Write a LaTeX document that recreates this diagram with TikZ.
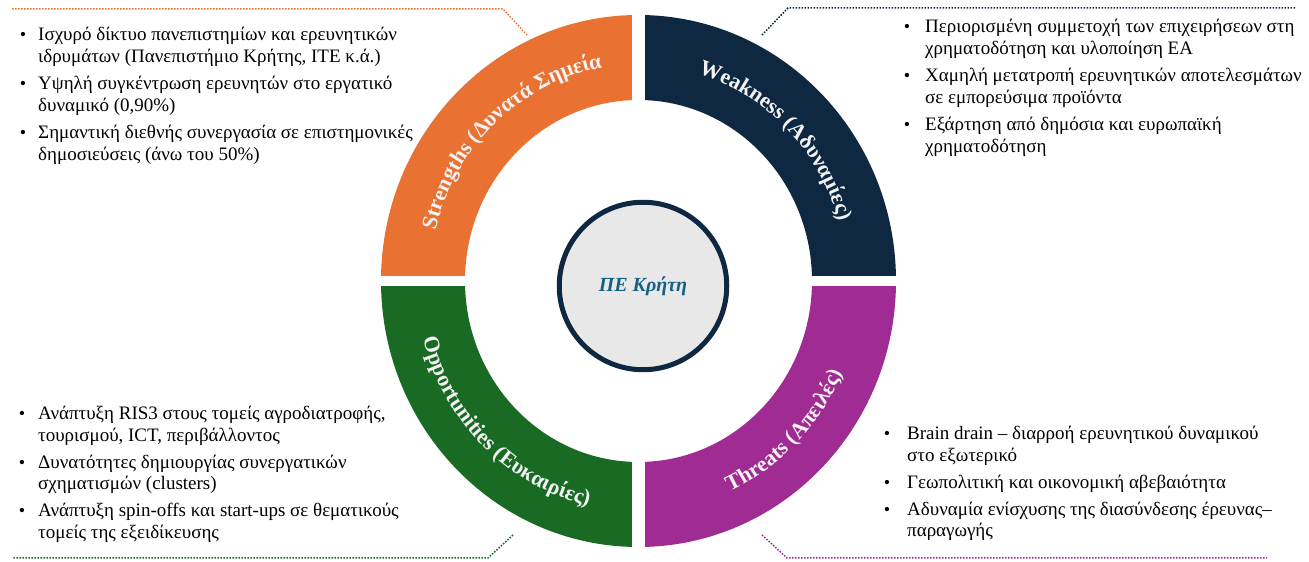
\documentclass[tikz,border=0pt]{standalone}
\usepackage{fontspec}
\setmainfont{Liberation Serif}
\usetikzlibrary{decorations.text,calc}
\definecolor{sorange}{HTML}{E97132}
\definecolor{wnavy}{HTML}{0E2841}
\definecolor{ogreen}{HTML}{196B24}
\definecolor{tpurple}{HTML}{A02B93}
\definecolor{ctext}{HTML}{156082}
\definecolor{cfill}{HTML}{E8E8E8}
\definecolor{lbl}{HTML}{F2F2F2}
\newcommand\ringsec[3]{%
  \fill[#1] ($(c)+(#2:257.5pt and 266pt)$) arc[start angle=#2,end angle=#3,x radius=257.5pt,y radius=266pt]
    -- ($(c)+(#3:173.5pt and 181pt)$) arc[start angle=#3,end angle=#2,x radius=173.5pt,y radius=181pt] -- cycle;}
\newcommand\ringlabel[5]{% text, start, end, xr, yr
  \path[decorate, decoration={text along path, text align=center, text color=lbl,
    text={|\fontsize{22}{22}\selectfont\bfseries|#1}}]
    ($(c)+(#2:#4pt and #5pt)$) arc[start angle=#2,end angle=#3,x radius=#4pt,y radius=#5pt];}
\begin{document}
\begin{tikzpicture}[x=1pt,y=1pt,
  txt/.style={anchor=base west, inner sep=0pt, font=\fontsize{19}{21.7}\selectfont},
  bul/.style={anchor=base, inner sep=0pt, font=\fontsize{18}{21.7}\selectfont},
  lead/.style={line width=1.5pt, dash pattern=on 1.5pt off 1.5pt},
  ]
\useasboundingbox (0,0) rectangle (1309,562);
\fill[white] (0,0) rectangle (1309,562);
\coordinate (c) at (638.5,281);
% ring quadrants
\ringsec{sorange}{90}{180}
\ringsec{wnavy}{0}{90}
\ringsec{ogreen}{180}{270}
\ringsec{tpurple}{270}{360}
% gaps
\fill[white] (632.2,8) rectangle (644.8,554);
\fill[white] (372,276) rectangle (906,286.3);
% center
\node[circle, draw=wnavy, line width=5pt, fill=cfill, minimum size=167.5pt, inner sep=0pt,
  font=\fontsize{20}{24}\selectfont\bfseries\itshape, text=ctext] (ctr) at (643,276) {ΠΕ Κρήτη};
% ring labels
\ringlabel{Strengths (Δυνατά Σημεία}{178}{88}{208.5}{216.5}
\ringlabel{Weakness (Αδυναμίες)}{90}{0}{208.5}{216.5}
\ringlabel{Opportunities (Ευκαιρίες)}{181}{271}{222.5}{230.5}
\ringlabel{Threats (Απειλές)}{270}{360}{222.5}{230.5}
% leader lines
\coordinate (so1) at (12,553); \coordinate (so2) at (503,553); \coordinate (so3) at (527,527);
\draw[lead, sorange] (so1) -- (so2) -- (so3);
\coordinate (wn1) at (762,527); \coordinate (wn2) at (788,554); \coordinate (wn3) at (1295,554);
\draw[lead, wnavy] (wn1) -- (wn2) -- (wn3);
\coordinate (og1) at (513,27); \coordinate (og2) at (488,4); \coordinate (og3) at (12,4);
\draw[lead, ogreen] (og1) -- (og2) -- (og3);
\coordinate (tp1) at (762,27); \coordinate (tp2) at (787,4); \coordinate (tp3) at (1267,4);
\draw[lead, tpurple] (tp1) -- (tp2) -- (tp3);
% Strengths text
\node[bul] (sb1) at (23,521) {•};
\node[txt] (s1) at (38,521) {Ισχυρό δίκτυο πανεπιστημίων και ερευνητικών};
\node[txt] (s2) at (38,499.3) {ιδρυμάτων (Πανεπιστήμιο Κρήτης, ΙΤΕ κ.ά.)};
\node[bul] (sb2) at (23,472.3) {•};
\node[txt] (s3) at (38,472.3) {Υψηλή συγκέντρωση ερευνητών στο εργατικό};
\node[txt] (s4) at (38,450.6) {δυναμικό (0,90\%)};
\node[bul] (sb3) at (23,423.6) {•};
\node[txt] (s5) at (38,423.6) {Σημαντική διεθνής συνεργασία σε επιστημονικές};
\node[txt] (s6) at (38,401.9) {δημοσιεύσεις (άνω του 50\%)};
% Weakness text
\node[bul] (wb1) at (907,529) {•};
\node[txt] (w1) at (925,529) {Περιορισμένη συμμετοχή των επιχειρήσεων στη};
\node[txt] (w2) at (925,507.3) {χρηματοδότηση και υλοποίηση ΕΑ};
\node[bul] (wb2) at (907,480.3) {•};
\node[txt] (w3) at (925,480.3) {Χαμηλή μετατροπή ερευνητικών αποτελεσμάτων};
\node[txt] (w4) at (925,458.6) {σε εμπορεύσιμα προϊόντα};
\node[bul] (wb3) at (907,431.6) {•};
\node[txt] (w5) at (925,431.6) {Εξάρτηση από δημόσια και ευρωπαϊκή};
\node[txt] (w6) at (925,409.9) {χρηματοδότηση};
% Opportunities text
\node[bul] (ob1) at (22,142.5) {•};
\node[txt] (o1) at (38,142.5) {Ανάπτυξη RIS3 στους τομείς αγροδιατροφής,};
\node[txt] (o2) at (38,120.8) {τουρισμού, ICT, περιβάλλοντος};
\node[bul] (ob2) at (22,93.8) {•};
\node[txt] (o3) at (38,93.8) {Δυνατότητες δημιουργίας συνεργατικών};
\node[txt] (o4) at (38,72.1) {σχηματισμών (clusters)};
\node[bul] (ob3) at (22,45.1) {•};
\node[txt] (o5) at (38,45.1) {Ανάπτυξη spin-offs και start-ups σε θεματικούς};
\node[txt] (o6) at (38,23.4) {τομείς της εξειδίκευσης};
% Threats text
\node[bul] (tb1) at (887,122.5) {•};
\node[txt] (t1) at (907,122.5) {Brain drain – διαρροή ερευνητικού δυναμικού};
\node[txt] (t2) at (907,100.8) {στο εξωτερικό};
\node[bul] (tb2) at (887,73.8) {•};
\node[txt] (t3) at (907,73.8) {Γεωπολιτική και οικονομική αβεβαιότητα};
\node[bul] (tb3) at (887,46.8) {•};
\node[txt] (t4) at (907,46.8) {Αδυναμία ενίσχυσης της διασύνδεσης έρευνας–};
\node[txt] (t5) at (907,25.1) {παραγωγής};
\end{tikzpicture}
\end{document}
